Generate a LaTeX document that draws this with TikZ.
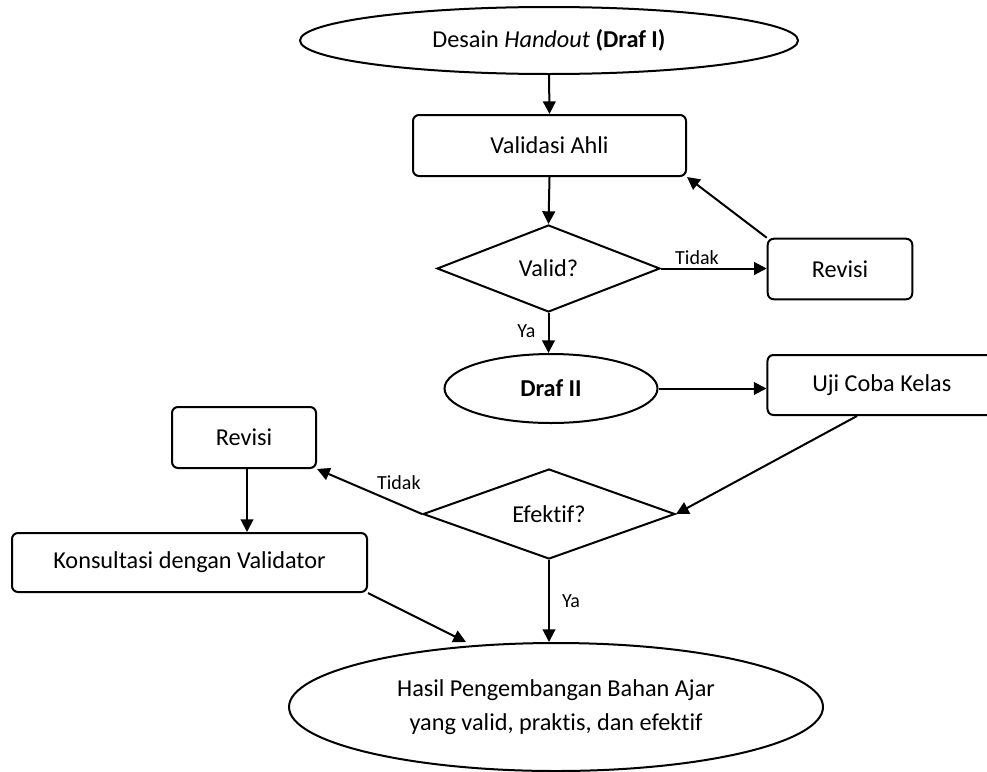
\documentclass[tikz,border=0pt]{standalone}
\usepackage{fontspec}
\setmainfont[Ligatures=NoCommon]{Carlito}
\usetikzlibrary{shapes.geometric,arrows.meta,calc}
\begin{document}
\begin{tikzpicture}[x=0.75pt,y=-0.75pt,
  every node/.style={font=\fontsize{18.2}{26}\selectfont, inner sep=0pt},
  box/.style={draw, line width=1.5pt, rounded corners=4.5pt, rectangle},
  oval/.style={draw, line width=1.5pt, ellipse},
  decision/.style={draw, line width=1.5pt, diamond, aspect=2.8},
  conn/.style={line width=1.5pt, -{Triangle[length=9.5pt,width=9.5pt]}},
  lbl/.style={font=\fontsize{15}{18}\selectfont, inner sep=1pt}]
\clip (0,0) rectangle (987,771);
\fill[white] (0,0) rectangle (987,771);

\node[oval, minimum width=373.5pt, minimum height=50.25pt] (top) at (549,40.5)
  {\raisebox{-3.5pt}{Desain \textit{Handout} \textbf{(Draf I)}}};
\node[box, minimum width=204.75pt, minimum height=45.75pt] (val) at (549.5,145.5) {Validasi Ahli};
\node[decision, minimum width=167.25pt, minimum height=65.25pt] (d1) at (548.5,268.5)
  {\raisebox{-4pt}{Valid?}};
\node[box, minimum width=108.4pt, minimum height=45.4pt] (rev1) at (840,269) {Revisi};
\node[oval, minimum width=159.75pt, minimum height=51.75pt] (draf2) at (551,388.5)
  {\raisebox{-2.5pt}{\textbf{Draf II}}};
\node[box, minimum width=171.4pt, minimum height=45pt] (uji) at (881.75,385) {\raisebox{-1pt}{Uji Coba Kelas}};
\node[decision, minimum width=189pt, minimum height=67.5pt] (d2) at (549,514)
  {\raisebox{-4pt}{Efektif?}};
\node[box, minimum width=108pt, minimum height=45.75pt] (rev2) at (244,437.5) {Revisi};
\node[box, minimum width=266.25pt, minimum height=44.25pt] (kon) at (189.5,562.5) {Konsultasi dengan Validator};
\node[oval, minimum width=400.5pt, minimum height=96pt] (hasil) at (556,707)
  {\raisebox{-3pt}{\parbox{250pt}{\centering Hasil Pengembangan Bahan Ajar\\yang valid, praktis, dan efektif}}};

\coordinate (ujiout) at ([xshift=67.9pt]uji.south west);
\coordinate (kontip) at ([xshift=-67.5pt]hasil.north);

\draw[conn] (top.south) -- (val.north);
\draw[conn] (val.south) -- (d1.north);
\draw[conn] (d1.east) -- node[lbl, above=1pt, pos=0.34] {Tidak} (d1.east -| rev1.west);
\draw[conn] (rev1.north west) -- (val.south east);
\draw[conn] (d1.south) -- node[lbl, left=8pt, pos=0.45] {Ya} (d1.south |- draf2.north);
\draw[conn] (draf2.east) -- (draf2.east -| uji.west);
\draw[conn] (ujiout) -- (d2.east);
\draw[conn] (d2.west) -- node[lbl, above=9pt, pos=0.22] {Tidak} (rev2.south east);
\draw[conn] (d2.south) -- node[lbl, right=8pt, pos=0.5] {Ya} (d2.south |- hasil.north);
\draw[conn] ([xshift=2.25pt]rev2.south) -- ([xshift=2.25pt]rev2.south |- kon.north);
\draw[conn] (kon.south east) -- (kontip);
\end{tikzpicture}
\end{document}
